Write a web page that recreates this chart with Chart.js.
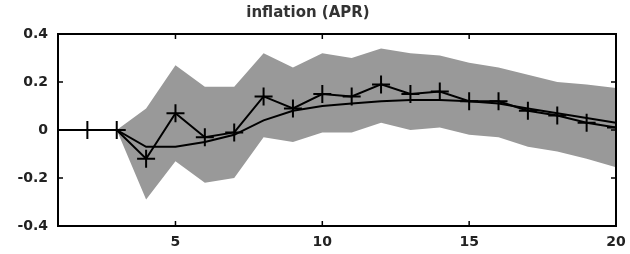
<!DOCTYPE html>
<html><head><meta charset="utf-8">
<script src="https://cdn.jsdelivr.net/npm/chart.js@4/dist/chart.umd.min.js"></script>
<style>html,body{margin:0;padding:0;background:#fff}#wrap{width:630px;height:254px}</style>
</head><body><div id="wrap"><canvas id="c" width="630" height="254"></canvas></div>
<script>
const horizons = [1,2,3,4,5,6,7,8,9,10,11,12,13,14,15,16,17,18,19,20];
const pointResponse = [0,0,0,-0.12,0.07,-0.03,-0.01,0.14,0.09,0.15,0.14,0.19,0.15,0.16,0.12,0.12,0.08,0.06,0.03,0.01];
const smoothResponse = [0,0,0,-0.07,-0.07,-0.05,-0.02,0.04,0.08,0.10,0.11,0.12,0.125,0.125,0.12,0.11,0.09,0.07,0.05,0.03];
const bandUpper = [0,0,0,0.09,0.27,0.18,0.18,0.32,0.26,0.32,0.30,0.34,0.32,0.31,0.28,0.26,0.23,0.20,0.19,0.175];
const bandLower = [0,0,0,-0.29,-0.13,-0.22,-0.20,-0.03,-0.05,-0.01,-0.01,0.03,0,0.01,-0.02,-0.03,-0.07,-0.09,-0.12,-0.155];
const xTicks = [5,10,15,20];
const yTicks = [-0.4,-0.2,0,0.2,0.4];
const yTickLabels = ['-0.4','-0.2','0','0.2','0.4'];
const titleText = 'inflation (APR)';

const pts = arr => arr.map((v,i)=>({x:horizons[i], y:v}));

const frame = {
  id:'frame',
  afterDatasetsDraw(chart){
    const {ctx, chartArea:a, scales} = chart;
    ctx.save();
    ctx.strokeStyle='#000'; ctx.lineWidth=2;
    ctx.strokeRect(a.left, a.top, a.right-a.left, a.bottom-a.top);
    ctx.lineWidth=1.5;
    const L=5;
    xTicks.forEach(v=>{const x=scales.x.getPixelForValue(v);
      ctx.beginPath();ctx.moveTo(x,a.bottom);ctx.lineTo(x,a.bottom-L);ctx.moveTo(x,a.top);ctx.lineTo(x,a.top+L);ctx.stroke();});
    yTicks.forEach(v=>{const y=scales.y.getPixelForValue(v);
      ctx.beginPath();ctx.moveTo(a.left,y);ctx.lineTo(a.left+L,y);ctx.moveTo(a.right,y);ctx.lineTo(a.right-L,y);ctx.stroke();});
    ctx.restore();
  }
};

const tickFont = {family:'DejaVu Sans', size:14, weight:'bold'};

new Chart(document.getElementById('c'), {
  type:'line',
  data:{datasets:[
    {data:pts(bandUpper), borderWidth:0, pointRadius:0, backgroundColor:'#999999', fill:'+1', tension:0, order:4},
    {data:pts(bandLower), borderWidth:0, pointRadius:0, backgroundColor:'#999999', fill:false, tension:0, order:3},
    {data:pts(smoothResponse), borderColor:'#000', borderWidth:2, pointRadius:0, fill:false, tension:0, order:2},
    {data:pts(pointResponse), borderColor:'#000', borderWidth:2, pointStyle:'cross', pointRadius:9, pointBorderWidth:2, pointBorderColor:'#000', fill:false, tension:0, order:1}
  ]},
  options:{
    responsive:false, animation:false, devicePixelRatio:1,
    layout:{padding:{left:0,right:14,top:0,bottom:0}},
    plugins:{legend:{display:false}, tooltip:{enabled:false},
      title:{display:true, text:titleText, color:'#333', font:{family:'DejaVu Sans', size:15, weight:'bold'}, padding:{top:4,bottom:12}}},
    scales:{
      x:{type:'linear', min:1, max:20,
        afterBuildTicks(s){s.ticks = xTicks.map(v=>({value:v}));},
        afterFit(s){s.height=28; s.paddingRight=0;},
        grid:{display:false, drawTicks:false}, border:{display:false},
        ticks:{color:'#222', font:tickFont, padding:8, maxRotation:0}},
      y:{type:'linear', min:-0.4, max:0.4,
        afterBuildTicks(s){s.ticks = yTicks.map(v=>({value:v}));},
        afterFit(s){s.width=58;},
        grid:{display:false, drawTicks:false}, border:{display:false},
        ticks:{color:'#222', font:tickFont, padding:10,
          callback:(v)=>{const i=yTicks.findIndex(t=>Math.abs(t-v)<1e-9);return i>=0?yTickLabels[i]:'';}}}
    }
  },
  plugins:[frame]
});
</script></body></html>
